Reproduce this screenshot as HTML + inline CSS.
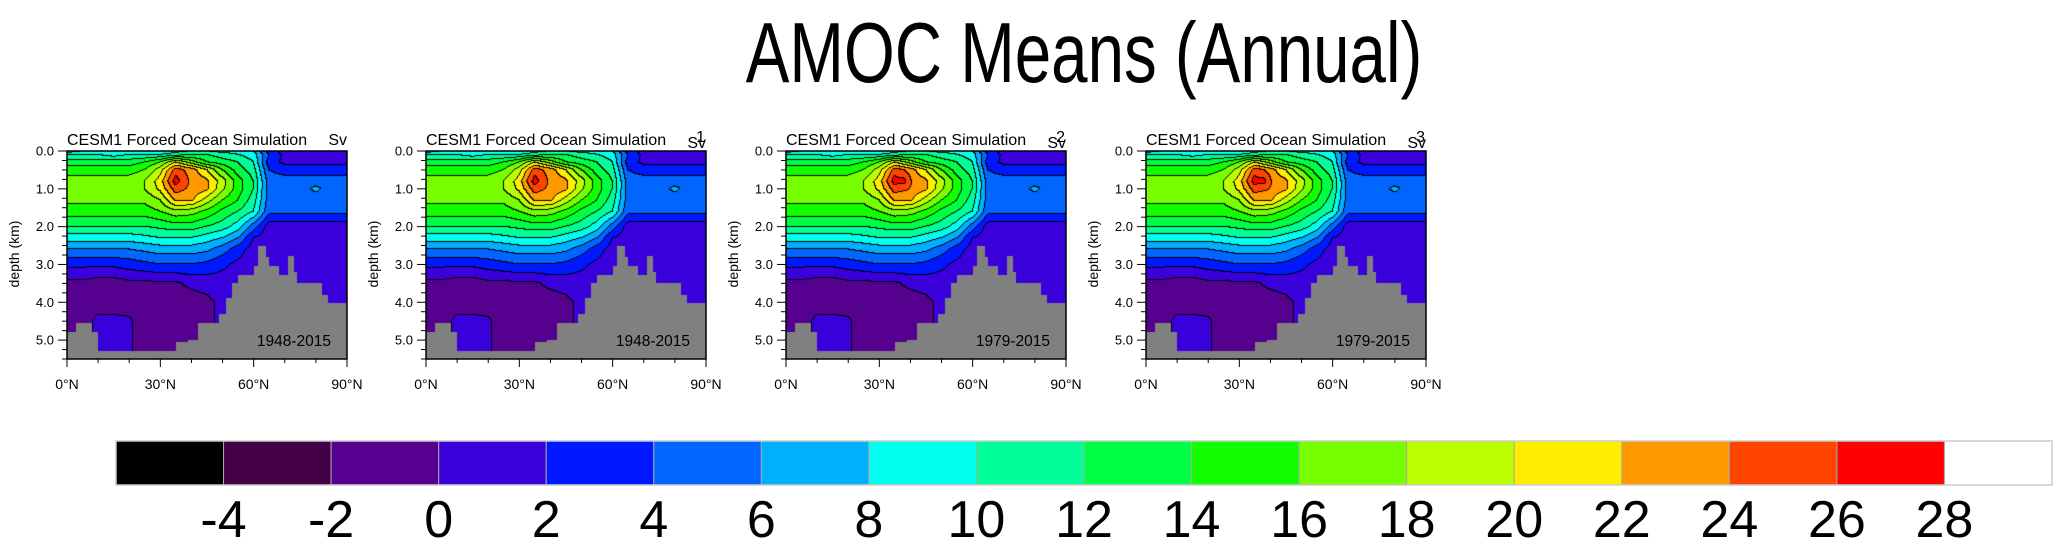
<!DOCTYPE html>
<html><head><meta charset="utf-8">
<style>
html,body{margin:0;padding:0;background:#fff;}
body{width:2060px;height:546px;position:relative;overflow:hidden;font-family:"Liberation Sans",sans-serif;}
.t{position:absolute;white-space:nowrap;color:#000;}
</style></head>
<body>
<div class="t" style="left:1084px;top:4px;font-size:85px;line-height:100px;transform:translateX(-50%) scaleX(0.77);">AMOC Means (Annual)</div>
<svg id="svg" width="2060" height="546" style="position:absolute;left:0;top:0;"></svg>
<script>
// ---- data ----
const lats = [0,5,10,15,20,25,30,35,40,45,50,55,60,65,70,75,80,85,90];
const depths = [0,0.1,0.3,0.5,0.8,1.0,1.3,1.6,2.0,2.3,2.6,3.0,3.5,4.0,4.5,5.0,5.5];
const field = [
[6,8,9,9,9,9,8,9,10,10,9,9,8,3,1,1,1,0.5,0.5],
[10,10,10,9,10,10,10,11,12,12,11,10,9,4,1.5,1.5,1,0.5,0.5],
[13,13,13,13,13,14,16,20,17,14,13,12,10,3,1.5,1.5,1.5,1.5,1.5],
[15,15,15,15,15,16,19,25,23,20,16,13,11,4,3,3,3,3,3],
[17,17,17,17,17,18,21,27,23.5,22.5,19,15,12,5,5,5,5,5,5],
[17,17,17,17,17,18,20.5,25,23.5,22.5,18.5,15,12,5,5,5,6.5,5,5],
[16.5,16.5,16.5,16.5,16.5,16.5,18,22.5,22.5,19,16,14,11,5,5,5,5,5,5],
[15,15,15,15,15,15,16,17.5,17,15.5,13.5,12,10,4.5,4.5,4.5,4.5,4.5,4.5],
[12,12,12,12,12,12,12.5,13,13,12,11,9,5,1,1,1,1,1,1],
[9,9,9,9,9,9.5,10,10,10,9,8,6,2,1,0.5,0.5,1,1,1],
[6,6,6,6,6,6.5,7,7,7,6.5,5,3,1,1,1,1,1,1,1],
[2.5,2.5,2.5,2.5,3,3.5,4,4,4,3.5,2.5,1.5,1,1,0.5,0.5,1,1,1],
[-0.5,-0.5,-1,-1,-0.5,-0.5,-0.3,-0.3,0.5,0.8,1,0.8,0.5,0.5,0.5,1,0.5,0.5,1],
[-1,-1,-1,-1,-1,-1,-1,-1,-1,-0.5,0.5,0.5,0.5,0.5,1,1,1,1,1],
[-1,-1,0.5,0.5,0.3,-1,-1,-1,-1,-0.5,0.5,0.5,1,1,1,1,1,1,1],
[-1,-1,0.5,0.5,0.3,-1,-1,-1,-1,-0.5,0.5,0.5,1,1,1,1,1,1,1],
[-1,-1,0.5,0.5,0.3,-1,-1,-1,-1,-0.5,0.5,0.5,1,1,1,1,1,1,1]
];
const topoLat = [0,3,8,10,35,39,42,49,51,53,55,60,61.5,64,65,68,71,73,74,82,84,90];
const topoDepth = [4.79,4.55,4.79,5.3,5.05,5.0,4.55,4.3,3.9,3.5,3.27,3.05,2.52,2.8,3.03,3.27,2.77,3.2,3.5,3.8,4.03,4.03];
const panelLabels = ["Sv","1","2","3"];
const panelYears = ["1948-2015","1948-2015","1979-2015","1979-2015"];
const panelCoreBoost = [0,0,0.4,0.4];
const levels = [-4,-2,0,2,4,6,8,10,12,14,16,18,20,22,24,26,28];
const levelLabels = ["-4","-2","0","2","4","6","8","10","12","14","16","18","20","22","24","26","28"];
const colors = ["#000000","#440044","#55008f","#3a00dc","#0018ff","#0066ff","#00b0ff","#00ffee","#00ff99","#00ff44","#11ff00","#77ff00","#bbff00","#ffee00","#ff9900","#ff4400","#ff0000","#ffffff"];
const xTicks = [0,30,60,90];
const yTicks = [0,1,2,3,4,5];

const NS="http://www.w3.org/2000/svg";
const svg=document.getElementById('svg');
function mk(tag,attrs,parent){const e=document.createElementNS(NS,tag);for(const k in attrs)e.setAttribute(k,attrs[k]);(parent||svg).appendChild(e);return e;}
function rgb(h){return [parseInt(h.substr(1,2),16),parseInt(h.substr(3,2),16),parseInt(h.substr(5,2),16)];}
const rgbs=colors.map(rgb);
function levelIdx(v){let i=0;while(i<levels.length&&v>=levels[i])i++;return i;}
function topoAt(lat){for(let i=topoLat.length-1;i>=0;i--){if(lat>=topoLat[i])return topoDepth[i];}return topoDepth[0];}
function sample(lat,d,boost){
  let j=0;while(j<depths.length-2&&d>depths[j+1])j++;
  const td=Math.max(0,Math.min(1,(d-depths[j])/(depths[j+1]-depths[j])));
  const fl=lat/5;let i=Math.min(Math.floor(fl),lats.length-2);const tl=fl-i;
  const a=field[j][i]*(1-tl)+field[j][i+1]*tl;
  const b=field[j+1][i]*(1-tl)+field[j+1][i+1]*tl;
  let v=a*(1-td)+b*td;
  if(boost){const dd=(lat-38.5)/2,dz=(d-0.8)/0.2;v+=boost*4*Math.exp(-(dd*dd+dz*dz));}
  return v;
}
const PW=280,PH=208,PY=151,lefts=[67,426,786,1146];
const xS=lat=>lat/90*PW, yS=d=>d/5.5*PH;

lefts.forEach((L,p)=>{
  const g=mk('g',{});
  
  
  const c=document.createElement('canvas');c.width=PW;c.height=PH;
  const ctx=c.getContext('2d');const im=ctx.createImageData(PW,PH);
  const idx=new Int16Array(PW*PH);
  for(let y=0;y<PH;y++)for(let x=0;x<PW;x++){
    const lat=(x+0.5)/PW*90,d=(y+0.5)/PH*5.5;
    idx[y*PW+x]=d>topoAt(lat)?-1:levelIdx(sample(lat,d,panelCoreBoost[p]));
  }
  for(let y=0;y<PH;y++)for(let x=0;x<PW;x++){
    const k=y*PW+x,v=idx[k];let col;
    if(v<0)col=[128,128,128];
    else{
      const r=x<PW-1?idx[k+1]:v,b=y<PH-1?idx[k+PW]:v;
      if((r>=0&&r!==v)||(b>=0&&b!==v))col=[0,0,0];else col=rgbs[v];
    }
    im.data[k*4]=col[0];im.data[k*4+1]=col[1];im.data[k*4+2]=col[2];im.data[k*4+3]=255;
  }
  ctx.putImageData(im,0,0);
  const img=mk('image',{x:L,y:PY,width:PW,height:PH,href:c.toDataURL()},g);
  
  
  const fr=mk('rect',{x:L,y:PY,width:PW,height:PH,fill:'none',stroke:'#000','stroke-width':1.5},g);
  
  
  for(let d=0;d<=5.5001;d+=0.25){
    const yy=PY+yS(d);const major=Math.abs(d-Math.round(d))<1e-6;
    mk('line',{x1:L,x2:L-(major?9:5),y1:yy,y2:yy,stroke:'#000','stroke-width':1},g);
  }
  yTicks.forEach(v=>{
    const t=mk('text',{x:L-13,y:PY+yS(v)+4.5,'font-size':13,'text-anchor':'end'},g);t.textContent=v.toFixed(1);
    
    
  });
  for(let a=0;a<=90;a+=10){const xx=L+xS(a);mk('line',{x1:xx,x2:xx,y1:PY+PH,y2:PY+PH+(a%30===0?8:4),stroke:'#000','stroke-width':1},g);}
  xTicks.forEach(v=>{
    const t=mk('text',{x:L+xS(v),y:PY+PH+30,'font-size':14,'text-anchor':'middle'},g);
    t.textContent=v+'°N';
    
    
  });
  const yt=mk('text',{x:0,y:0,'font-size':14,'text-anchor':'middle',transform:`translate(${L-48},${PY+103}) rotate(-90)`},g);
  yt.textContent='depth (km)';
  
  
  const st=mk('text',{x:L,y:PY-6,'font-size':16},g);st.textContent='CESM1 Forced Ocean Simulation';
  
  
  const sv=mk('text',{x:L+PW,y:PY-(p?3:6),'font-size':16,'text-anchor':'end'},g);sv.textContent='Sv';
  
  
  if(p>0){const n=mk('text',{x:L+PW-1,y:PY-9,'font-size':16,'text-anchor':'end'},g);n.textContent=panelLabels[p];
    
    }
  const yr=mk('text',{x:L+PW-16,y:PY+195,'font-size':15.5,'text-anchor':'end'},g);yr.textContent=panelYears[p];
  
  
});

const CB_L=116,CB_R=2052,CB_T=441,CB_B=485;const bw=(CB_R-CB_L)/colors.length;
const cb=mk('g',{});


colors.forEach((c,i)=>{
  const r=mk('rect',{x:CB_L+i*bw,y:CB_T,width:bw,height:CB_B-CB_T,fill:c,stroke:'#aaa','stroke-width':1},cb);
  
  
});
mk('rect',{x:CB_L,y:CB_T,width:CB_R-CB_L,height:CB_B-CB_T,fill:'none',stroke:'#ccc','stroke-width':1.5},cb);
levelLabels.forEach((s,i)=>{
  const t=mk('text',{x:CB_L+(i+1)*bw,y:537,'font-size':52,'text-anchor':'middle'},cb);t.textContent=s;
  
  
});
</script>
</body></html>
